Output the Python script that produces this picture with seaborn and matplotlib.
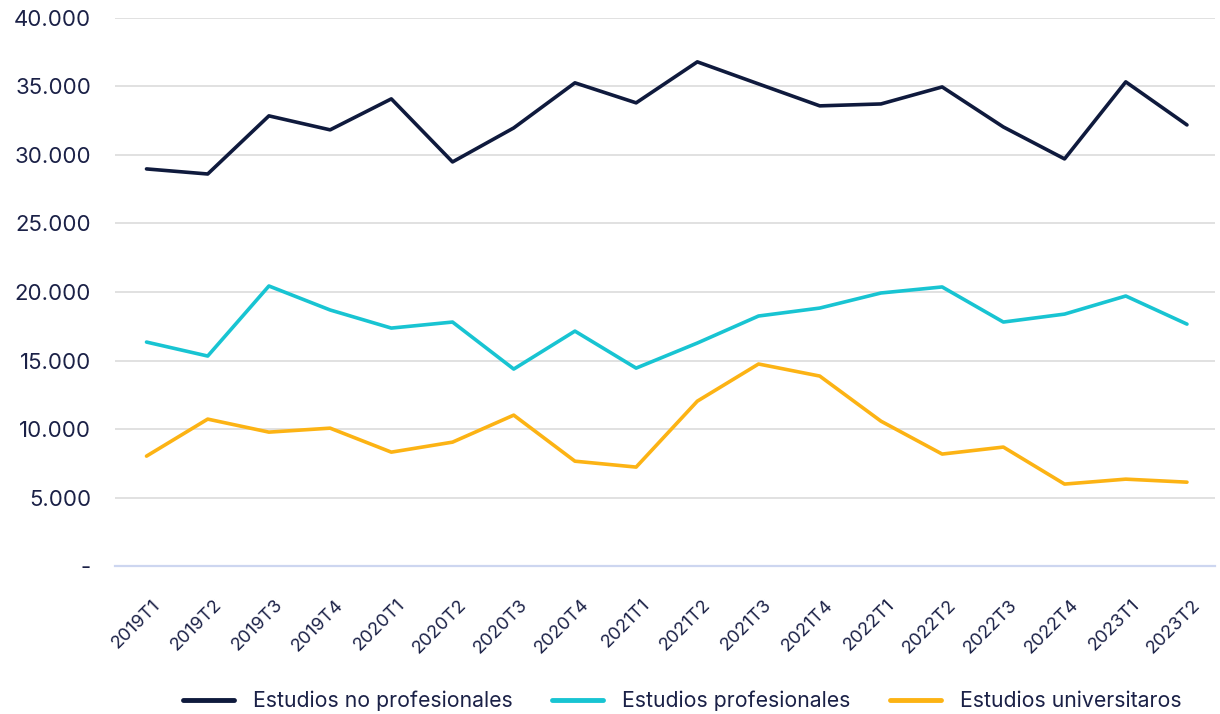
import matplotlib
matplotlib.use("Agg")
import matplotlib.pyplot as plt
import matplotlib.transforms as mtransforms
import seaborn as sns
import pandas as pd
from matplotlib.ticker import FixedLocator, FuncFormatter

periods = ["2019T1", "2019T2", "2019T3", "2019T4", "2020T1", "2020T2", "2020T3", "2020T4",
           "2021T1", "2021T2", "2021T3", "2021T4", "2022T1", "2022T2", "2022T3", "2022T4",
           "2023T1", "2023T2"]
no_profesionales = [28980, 28610, 32850, 31830, 34090, 29490, 31970, 35260,
                    33800, 36790, 35180, 33580, 33720, 34960, 32040, 29710,
                    35330, 32190]
profesionales = [16350, 15330, 20440, 18690, 17370, 17810, 14380, 17150,
                 14450, 16280, 18250, 18830, 19930, 20370, 17810, 18390,
                 19710, 17660]
universitarios = [8030, 10730, 9780, 10070, 8320, 9050, 11020, 7660,
                  7230, 12040, 14750, 13870, 10580, 8180, 8690, 5990,
                  6350, 6130]
series_names = ["Estudios no profesionales", "Estudios profesionales", "Estudios universitaros"]
y_ticks = [0, 5000, 10000, 15000, 20000, 25000, 30000, 35000, 40000]

colors = ["#0f1a3d", "#18c4d2", "#fcb314"]
text_color = "#1b2147"

df = pd.DataFrame({
    "periodo": periods * 3,
    "valor": no_profesionales + profesionales + universitarios,
    "serie": [series_names[0]] * len(periods) + [series_names[1]] * len(periods) + [series_names[2]] * len(periods),
})
df["x"] = df["periodo"].map({p: i for i, p in enumerate(periods)})

sns.set_theme(style="white")
plt.rcParams["font.family"] = ["Inter", "DejaVu Sans"]

fig = plt.figure(figsize=(12.2, 7.14), dpi=100)
ax = fig.add_axes([0.094, 0.207, 0.902, 0.768])

sns.lineplot(data=df, x="x", y="valor", hue="serie", palette=colors,
             hue_order=series_names, linewidth=2.6, ax=ax, legend=True)

ax.set_xlim(-0.52, len(periods) - 1 + 0.46)
ax.set_ylim(0, 40000)
ax.yaxis.set_major_locator(FixedLocator(y_ticks))
ax.yaxis.set_major_formatter(FuncFormatter(
    lambda v, p: "-" if v == 0 else f"{int(v):,}".replace(",", ".")))
ax.set_xticks(range(len(periods)))
ax.set_xticklabels(periods, rotation=45, ha="right", va="center", rotation_mode="anchor")
ax.tick_params(axis="x", labelsize=13.2, colors=text_color, length=0, pad=26)
ax.tick_params(axis="y", labelsize=16, colors=text_color, length=0, pad=17)
shift = mtransforms.ScaledTranslation(11 / 100, 0, fig.dpi_scale_trans)
for lbl in ax.get_xticklabels():
    lbl.set_transform(lbl.get_transform() + shift)
for lbl in ax.get_yticklabels():
    lbl.set_horizontalalignment("right")

ax.grid(axis="y", color="#dcdcdc", linewidth=1.2)
ax.grid(axis="x", visible=False)
for s in ["top", "right", "left"]:
    ax.spines[s].set_visible(False)
ax.spines["bottom"].set_color("#cdd6f0")
ax.spines["bottom"].set_linewidth(1.6)
ax.set_xlabel("")
ax.set_ylabel("")

handles, labels = ax.get_legend_handles_labels()
leg = ax.legend(handles, labels, loc="center", bbox_to_anchor=(0.559, 0.018),
                bbox_transform=fig.transFigure,
                ncol=3, frameon=False, fontsize=15.3, handlelength=2.4, columnspacing=1.85,
                handletextpad=0.9, labelcolor=text_color, borderpad=0, borderaxespad=0)
for line in leg.get_lines():
    line.set_linewidth(3.5)

fig.savefig("out.png", dpi=100)
